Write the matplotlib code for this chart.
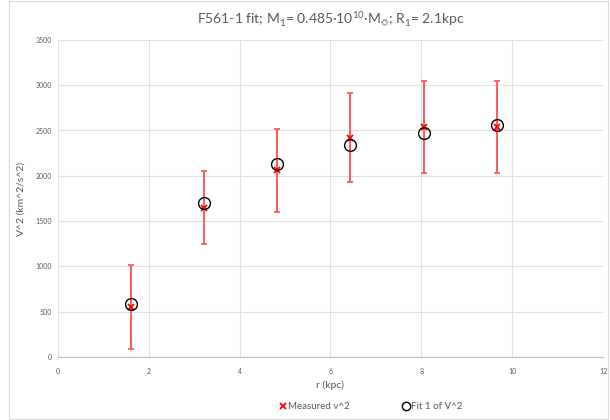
import numpy as np
import matplotlib
matplotlib.use("Agg")
import matplotlib.pyplot as plt
from matplotlib.patches import Rectangle
from matplotlib.lines import Line2D

plt.rcParams['font.family'] = ['Lato', 'DejaVu Sans']
plt.rcParams['mathtext.fontset'] = 'custom'
plt.rcParams['mathtext.rm'] = 'Lato'

# values
r_kpc = [1.61, 3.22, 4.83, 6.44, 8.05, 9.66]
v2_measured = [550, 1650, 2060, 2420, 2540, 2540]
v2_err = [465, 405, 455, 490, 505, 505]
v2_fit = [585, 1700, 2130, 2345, 2475, 2560]

x_ticks = [0, 2, 4, 6, 8, 10, 12]
y_ticks = [0, 500, 1000, 1500, 2000, 2500, 3000, 3500]

text_grey = "#595959"
grid_grey = "#e0e0e0"

fig = plt.figure(figsize=(6.1, 4.2), dpi=100)
ax = fig.add_axes([0.095, 0.15, 0.8935, 0.755])

# outer chart border like the spreadsheet export
fig.patches.append(Rectangle((0.015, 0.003), 0.982, 0.994, transform=fig.transFigure,
                             fill=False, edgecolor="#d9d9d9", linewidth=0.8))

ax.errorbar(r_kpc, v2_measured, yerr=v2_err, fmt="x", color="#ff0000",
            ecolor="#ff5a5a", elinewidth=1.4, capsize=2.5, capthick=1.2,
            markersize=5, markeredgewidth=1.3, zorder=3)
ax.plot(r_kpc, v2_fit, "o", markerfacecolor="none", markeredgecolor="black",
        markersize=8.5, markeredgewidth=1.0, zorder=4)

ax.set_xlim(0, 12)
ax.set_ylim(0, 3500)
ax.set_xticks(x_ticks)
ax.set_yticks(y_ticks)
ax.grid(True, color=grid_grey, linewidth=0.8)
ax.set_axisbelow(True)
for side in ["top", "right", "left"]:
    ax.spines[side].set_visible(False)
ax.spines["bottom"].set_color("#bfbfbf")
ax.tick_params(length=0, labelsize=5, colors=text_grey)
ax.tick_params(axis="x", pad=8)
ax.tick_params(axis="y", pad=4.5)

ax.set_title("F561-1 fit; M$_1$= 0.485·10$^{10}$·M$_{☼}$; R$_1$= 2.1kpc",
             fontsize=10, color=text_grey, pad=12)
ax.set_xlabel("r (kpc)", fontsize=7.5, color=text_grey, labelpad=4)
ax.set_ylabel("V^2 (km^2/s^2)", fontsize=7.5, color=text_grey)
ax.yaxis.set_label_coords(-0.06, 0.5)

handles = [
    Line2D([], [], linestyle="none", marker="x", color="#ff0000",
           markersize=4, markeredgewidth=1.3),
    Line2D([], [], linestyle="none", marker="o", markerfacecolor="none",
           markeredgecolor="black", markersize=6, markeredgewidth=1.0),
]
leg = fig.legend(handles, ["Measured v^2", "Fit 1 of V^2"], loc="lower center",
                 bbox_to_anchor=(0.607, 0.0), ncol=2, frameon=False, fontsize=7,
                 handletextpad=0.1, columnspacing=5.2, handlelength=1.0)
for t in leg.get_texts():
    t.set_color(text_grey)

fig.savefig("out.png", dpi=100)
